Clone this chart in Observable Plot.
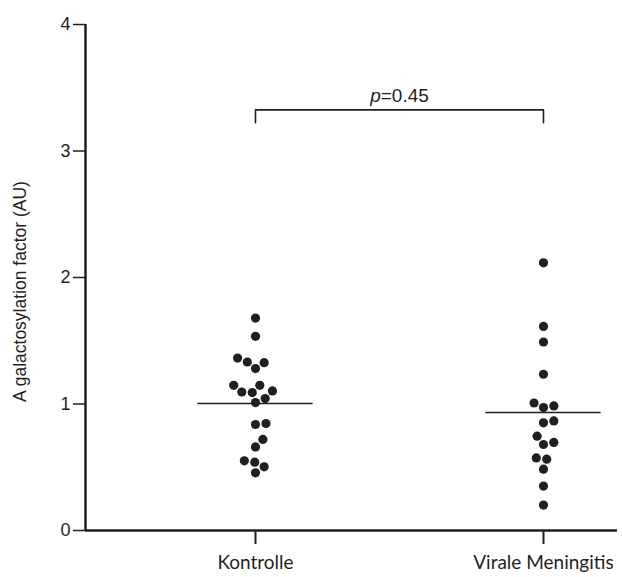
<!DOCTYPE html>
<html>
<head>
<meta charset="utf-8">
<script src="https://cdn.jsdelivr.net/npm/d3@7"></script>
<script src="https://cdn.jsdelivr.net/npm/@observablehq/plot@0.6"></script>
<style>
  html, body { margin: 0; padding: 0; background: #fff; }
</style>
</head>
<body>
<div id="chart"></div>
<script>
// ---- data ----
const categories = ["Kontrolle", "Virale Meningitis"];
const kontrolleValues = [1.679, 1.535, 1.363, 1.332, 1.327, 1.280, 1.148, 1.148, 1.095, 1.090,
  1.103, 1.043, 1.011, 0.838, 0.846, 0.720, 0.661, 0.551, 0.540, 0.503, 0.456];
const viraleValues = [2.116, 1.613, 1.490, 1.235, 1.008, 0.972, 0.985, 0.851, 0.866, 0.746,
  0.680, 0.696, 0.574, 0.564, 0.485, 0.351, 0.201];
const centralValues = [1.004, 0.933];
const yTicks = [0, 1, 2, 3, 4];
const yLabel = "A galactosylation factor (AU)";
const pValue = "0.45";
const bracketTop = 3.325;
const bracketBottom = 3.223;

// ---- layout ----
const W = 622, H = 577;
const mL = 85, mR = 5, mT = 24, mB = 47;
const xDomain = [0.4097, 2.257];
const yDomain = [0, 4];
const ink = "#231f20";
const arial = "'Liberation Sans', Arial, Helvetica, sans-serif";
const calibriLike = "Lato, 'Open Sans', sans-serif";
const pxPerX = (W - mL - mR) / (xDomain[1] - xDomain[0]);
const pxPerY = (H - mT - mB) / (yDomain[1] - yDomain[0]);

// simple beeswarm layout (dodge) per group
function swarm(values, center, d) {
  const order = values.map((v, i) => i).sort((a, b) => values[a] - values[b]);
  const placed = [];
  const out = new Array(values.length);
  for (const i of order) {
    const py = values[i] * pxPerY;
    const cands = [0];
    for (const p of placed) {
      const dy = Math.abs(p.py - py);
      if (dy < d) {
        const dx = Math.sqrt(d * d - dy * dy);
        cands.push(p.px + dx, p.px - dx);
      }
    }
    cands.sort((a, b) => Math.abs(a) - Math.abs(b));
    for (const c of cands) {
      if (placed.every(p => (p.px - c) ** 2 + (p.py - py) ** 2 >= d * d - 1e-6)) {
        placed.push({px: c, py});
        out[i] = center + c / pxPerX;
        break;
      }
    }
  }
  return out;
}

const groups = [kontrolleValues, viraleValues];
const points = [];
groups.forEach((vals, g) => {
  const xs = swarm(vals, g + 1, 10.5);
  vals.forEach((v, i) => points.push({group: categories[g], x: xs[i], value: v}));
});
const centrals = centralValues.map((v, g) => ({x: g + 1, value: v}));
const bracket = [
  {x: 1, y: bracketBottom}, {x: 1, y: bracketTop},
  {x: 2, y: bracketTop}, {x: 2, y: bracketBottom}
];

const chart = Plot.plot({
  width: W, height: H,
  marginLeft: mL, marginRight: mR, marginTop: mT, marginBottom: mB,
  style: {background: "#fff", color: ink, fontFamily: arial, fontSize: "18px"},
  x: {domain: xDomain},
  y: {domain: yDomain},
  marks: [
    Plot.axisY({ticks: yTicks, tickFormat: d => String(d), tickSize: 12, tickPadding: 3,
      fontSize: 18, fontFamily: arial, label: null, strokeWidth: 1.5}),
    Plot.axisX({ticks: [1, 2], tickFormat: i => categories[i - 1], tickSize: 14, tickPadding: 11,
      fontSize: 19, fontFamily: calibriLike, label: null, strokeWidth: 2}),
    Plot.ruleY([0], {stroke: ink, strokeWidth: 2.5}),
    Plot.ruleX([xDomain[0]], {y1: 0, y2: 4, stroke: ink, strokeWidth: 2.5}),
    Plot.text([yLabel], {frameAnchor: "left", rotate: -90, textAnchor: "middle", dx: -65, dy: 14,
      fontSize: 17.5, fontFamily: arial, fill: ink}),
    Plot.ruleY(centrals, {y: "value", x1: d => d.x - 0.2, x2: d => d.x + 0.2, stroke: ink, strokeWidth: 1.6}),
    Plot.dot(points, {x: "x", y: "value", r: 4.6, fill: ink, stroke: null}),
    Plot.line(bracket, {x: "x", y: "y", stroke: ink, strokeWidth: 1.6}),
    Plot.text(["p=" + pValue], {x: 1.5, y: bracketTop, dy: -14, fontSize: 19, fontFamily: arial,
      fill: ink, textAnchor: "middle", className: "pval"})
  ]
});

// italic "p"
chart.querySelectorAll(".pval text").forEach(t => {
  const s = t.textContent;
  t.textContent = "";
  const ns = "http://www.w3.org/2000/svg";
  const a = document.createElementNS(ns, "tspan");
  a.setAttribute("font-style", "italic");
  a.textContent = s.slice(0, 1);
  const b = document.createElementNS(ns, "tspan");
  b.textContent = s.slice(1);
  t.appendChild(a); t.appendChild(b);
});

document.getElementById("chart").appendChild(chart);
</script>
</body>
</html>
